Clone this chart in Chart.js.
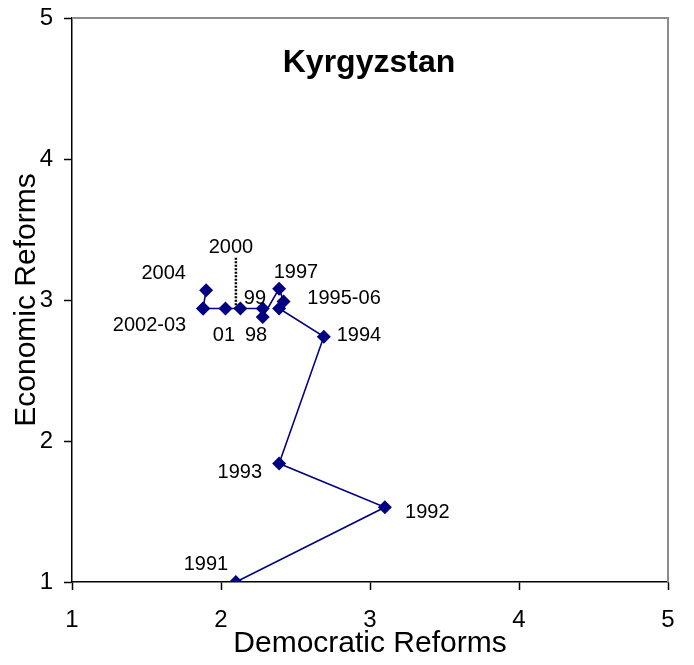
<!DOCTYPE html>
<html><head><meta charset="utf-8">
<script src="https://cdn.jsdelivr.net/npm/chart.js@4"></script>
<style>html,body{margin:0;padding:0;background:#fff;}</style>
</head><body>
<canvas id="c" width="694" height="665"></canvas>
<script>
// ---- data ----
const years      = [1991, 1992, 1993, 1994, 1995, 1996, 1997, 1998, 1999, 2000, 2001, 2002, 2003, 2004];
const democratic = [2.10, 3.10, 2.39, 2.69, 2.39, 2.42, 2.39, 2.28, 2.28, 2.13, 2.03, 1.88, 1.88, 1.90];
const economic   = [1.00, 1.53, 1.84, 2.74, 2.94, 2.99, 3.08, 2.88, 2.94, 2.94, 2.94, 2.94, 2.94, 3.07];

// dotted leader from the "2000" label down to its point
const leaderX = [2.10, 2.10];
const leaderY = [3.30, 2.94];

// year annotations (text, anchor in data units)
const labelTexts = ["2000", "2004", "1997", "99", "1995-06", "2002-03", "01", "98", "1994", "1993", "1992", "1991"];
const labelX     = [2.067, 1.615, 2.503, 2.228, 2.826, 1.520, 2.020, 2.235, 2.926, 2.126, 3.385, 1.899];
const labelY     = [3.369, 3.185, 3.192, 3.014, 3.014, 2.816, 2.745, 2.745, 2.745, 1.780, 1.493, 1.121];

const xTicks = [1, 2, 3, 4, 5];
const yTicks = [1, 2, 3, 4, 5];
const chartTitle = "Kyrgyzstan";
const xTitle = "Democratic Reforms";
const yTitle = "Economic Reforms";

const FONT = "'Liberation Sans', Arial, sans-serif";

const overlay = {
  id: 'overlay',
  beforeDatasetsDraw(chart) {
    const {ctx, chartArea: a} = chart;
    ctx.save();
    ctx.strokeStyle = '#8c8c8c';
    ctx.lineWidth = 2;
    ctx.beginPath();
    ctx.moveTo(a.left, a.top);
    ctx.lineTo(a.right, a.top);
    ctx.lineTo(a.right, a.bottom);
    ctx.stroke();
    ctx.restore();
  },
  afterDatasetsDraw(chart) {
    const {ctx, chartArea: a, scales: {x, y}} = chart;
    ctx.save();
    ctx.fillStyle = '#000';
    ctx.textAlign = 'center';
    ctx.textBaseline = 'middle';
    ctx.font = "20px " + FONT;
    labelTexts.forEach((t, i) => {
      ctx.fillText(t, x.getPixelForValue(labelX[i]), y.getPixelForValue(labelY[i]));
    });
    ctx.font = "bold 32px " + FONT;
    ctx.fillText(chartTitle, (a.left + a.right) / 2 - 1, a.top + 45);
    ctx.restore();
  }
};

new Chart(document.getElementById('c'), {
  type: 'scatter',
  data: {
    datasets: [
      {
        data: years.map((yr, i) => ({x: democratic[i], y: economic[i]})),
        showLine: true,
        borderColor: '#000080',
        borderWidth: 1.6,
        backgroundColor: '#000080',
        pointStyle: 'rectRot',
        pointRadius: 7,
        pointBorderWidth: 0,
        pointBackgroundColor: '#000080'
      },
      {
        data: leaderX.map((v, i) => ({x: v, y: leaderY[i]})),
        showLine: true,
        borderColor: '#000',
        borderWidth: 2.5,
        borderDash: [2, 1.5],
        pointRadius: 0
      }
    ]
  },
  options: {
    responsive: false,
    animation: false,
    events: [],
    layout: {padding: {left: 0, top: 18, right: 26, bottom: 0}},
    plugins: {legend: {display: false}, tooltip: {enabled: false}, title: {display: false}},
    scales: {
      x: {
        type: 'linear', position: 'bottom', min: 1, max: 5,
        afterBuildTicks: s => { s.ticks = xTicks.map(v => ({value: v})); },
        afterFit: s => { s.height = 83; s.paddingLeft = 0; s.paddingRight = 0; },
        ticks: {color: '#000', font: {family: FONT, size: 24}, padding: 16, callback: v => String(v)},
        grid: {drawOnChartArea: false, drawTicks: true, tickLength: 8, tickColor: '#000', tickWidth: 1.5},
        border: {color: '#000', width: 1.5},
        title: {display: true, text: xTitle, color: '#000', font: {family: FONT, size: 30}, padding: {top: 0, bottom: 3}}
      },
      y: {
        type: 'linear', position: 'left', min: 1, max: 5,
        afterBuildTicks: s => { s.ticks = yTicks.map(v => ({value: v})); },
        afterFit: s => { s.width = 72; s.paddingTop = 0; s.paddingBottom = 0; },
        ticks: {color: '#000', font: {family: FONT, size: 24}, padding: 11, callback: v => String(v)},
        grid: {drawOnChartArea: false, drawTicks: true, tickLength: 8, tickColor: '#000', tickWidth: 1.5},
        border: {color: '#000', width: 1.5},
        title: {display: true, text: yTitle, color: '#000', font: {family: FONT, size: 30}, padding: {top: 9, bottom: 0}}
      }
    }
  },
  plugins: [overlay]
});
</script>
</body></html>
